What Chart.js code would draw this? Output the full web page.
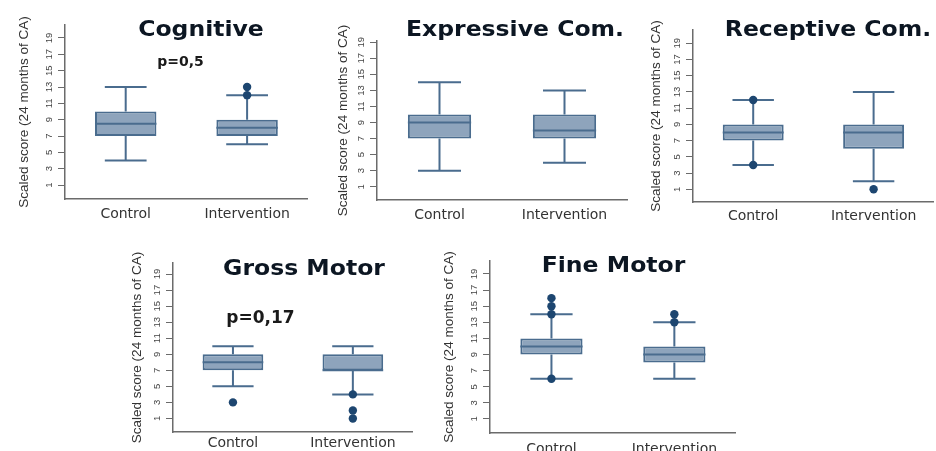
<!DOCTYPE html>
<html>
<head>
<meta charset="utf-8">
<script src="https://cdn.jsdelivr.net/npm/chart.js@4.4.1/dist/chart.umd.min.js"></script>
<style>
  html, body { margin: 0; padding: 0; background: #ffffff; overflow: hidden; width: 936px; height: 451px; }
  canvas { position: absolute; }
</style>
</head>
<body>
<script>
// ---- data ----
const groups = ['Control', 'Intervention'];
const yTickValues = [1, 3, 5, 7, 9, 11, 13, 15, 17, 19];
const yAxisTitle = 'Scaled score (24 months of CA)';

const domainTitles = ['Cognitive', 'Expressive Com.', 'Receptive Com.', 'Gross Motor', 'Fine Motor'];
const pValueLabels = ['p=0,5', '', '', 'p=0,17', ''];

// per group: [lower whisker, Q1, median, Q3, upper whisker]
const cognitiveSummary  = [[4, 7, 8.5, 10, 13], [6, 7, 8, 9, 12]];
const expressiveSummary = [[3, 7, 9, 10, 14],   [4, 7, 8, 10, 13]];
const receptiveSummary  = [[4, 7, 8, 9, 12],    [2, 6, 8, 9, 13]];
const grossMotorSummary = [[5, 7, 8, 9, 10],    [4, 7, 7, 9, 10]];
const fineMotorSummary  = [[6, 9, 10, 11, 14],  [6, 8, 9, 10, 13]];

// individual outlying scores per group
const cognitiveOutliers  = [[], [12, 13]];
const expressiveOutliers = [[], []];
const receptiveOutliers  = [[12, 4], [1]];
const grossMotorOutliers = [[3], [4, 2, 1]];
const fineMotorOutliers  = [[14, 15, 16, 6], [13, 14]];

const summaries = [cognitiveSummary, expressiveSummary, receptiveSummary, grossMotorSummary, fineMotorSummary];
const outliers  = [cognitiveOutliers, expressiveOutliers, receptiveOutliers, grossMotorOutliers, fineMotorOutliers];

// ---- layout (page pixels) ----
const Y_AXIS_W = 62;
const X_AXIS_H = 30;
const panels = [
  { area: { l: 65,  r: 310, t: 25,  b: 199 }, yMin: -0.71, yMax: 20.59, rowTop: 0,   titleGap: 13, labelPad: 7,
    title: { x: 201, y: 36 },   pval: { x: 180.5, y: 62, size: 14 } },
  { area: { l: 377, r: 627, t: 41,  b: 200 }, yMin: -0.65, yMax: 19.15, rowTop: 0,   titleGap: 20, labelPad: 7,
    title: { x: 515, y: 36 },   pval: null },
  { area: { l: 693, r: 936, t: 30,  b: 202 }, yMin: -0.57, yMax: 20.64, rowTop: 0,   titleGap: 17, labelPad: 6,
    title: { x: 828, y: 36 },   pval: null },
  { area: { l: 173, r: 415, t: 263, b: 432 }, yMin: -0.69, yMax: 20.38, rowTop: 236, titleGap: 18, labelPad: 3,
    title: { x: 304, y: 275 },  pval: { x: 260.5, y: 319, size: 17 } },
  { area: { l: 490, r: 738, t: 261, b: 433 }, yMin: -0.74, yMax: 20.61, rowTop: 236, titleGap: 13, labelPad: 8,
    title: { x: 613.5, y: 272 }, pval: null }
];

const BOX_FILL = '#8ea4bc';
const BOX_LINE = '#4a6c8e';
const DOT_FILL = '#1d4670';
const AXIS_COLOR = '#6b6b6b';

function boxPlotPlugin(summary, panel, canvasLeft, canvasTop, titleText, pText) {
  return {
    id: 'boxPlotParts',
    beforeDatasetsDraw(chart) {
      // whiskers and caps sit under the boxes and the outlier dots
      const ctx = chart.ctx;
      const y = chart.scales.y;
      const bars = chart.getDatasetMeta(1).data;
      ctx.save();
      ctx.strokeStyle = BOX_LINE;
      ctx.lineWidth = 2;
      bars.forEach((bar, i) => {
        const [lo, q1, , q3, hi] = summary[i];
        const capHalf = bar.width * 0.34;
        const yLo = y.getPixelForValue(lo), yQ1 = y.getPixelForValue(q1);
        const yQ3 = y.getPixelForValue(q3), yHi = y.getPixelForValue(hi);
        ctx.beginPath();
        ctx.moveTo(bar.x, yQ3); ctx.lineTo(bar.x, yHi);
        ctx.moveTo(bar.x - capHalf, yHi); ctx.lineTo(bar.x + capHalf, yHi);
        ctx.moveTo(bar.x, yQ1); ctx.lineTo(bar.x, yLo);
        ctx.moveTo(bar.x - capHalf, yLo); ctx.lineTo(bar.x + capHalf, yLo);
        ctx.stroke();
      });
      ctx.restore();
    },
    afterDatasetsDraw(chart) {
      // median lines across each box
      const ctx = chart.ctx;
      const y = chart.scales.y;
      const bars = chart.getDatasetMeta(1).data;
      ctx.save();
      ctx.strokeStyle = BOX_LINE;
      ctx.lineWidth = 2;
      bars.forEach((bar, i) => {
        const yMed = y.getPixelForValue(summary[i][2]);
        ctx.beginPath();
        ctx.moveTo(bar.x - bar.width / 2, yMed);
        ctx.lineTo(bar.x + bar.width / 2, yMed);
        ctx.stroke();
      });
      ctx.restore();
    },
    afterDraw(chart) {
      const ctx = chart.ctx;
      const y = chart.scales.y;
      const area = chart.chartArea;
      ctx.save();
      // rotated tick labels on the score axis
      ctx.fillStyle = '#444';
      ctx.font = '9.5px "Liberation Sans", Arial, sans-serif';
      ctx.textAlign = 'center';
      ctx.textBaseline = 'middle';
      yTickValues.forEach(v => {
        ctx.save();
        ctx.translate(area.left - 16, y.getPixelForValue(v));
        ctx.rotate(-Math.PI / 2);
        ctx.fillText(String(v), 0, 0);
        ctx.restore();
      });
      // panel heading
      ctx.save();
      ctx.translate(panel.title.x - canvasLeft, panel.title.y - canvasTop);
      ctx.scale(1.12, 1);
      ctx.fillStyle = '#0c1622';
      ctx.font = 'bold 21px "DejaVu Sans", sans-serif';
      ctx.textAlign = 'center';
      ctx.textBaseline = 'alphabetic';
      ctx.fillText(titleText, 0, 0);
      ctx.restore();
      // p-value note
      if (pText && panel.pval) {
        ctx.fillStyle = '#1a1a1a';
        ctx.font = 'bold ' + panel.pval.size + 'px "DejaVu Sans", sans-serif';
        ctx.textAlign = 'center';
        ctx.textBaseline = 'middle';
        ctx.fillText(pText, panel.pval.x - canvasLeft, panel.pval.y - canvasTop);
      }
      ctx.restore();
    }
  };
}

panels.forEach((panel, idx) => {
  const a = panel.area;
  const canvasLeft = a.l - Y_AXIS_W;
  const canvasTop = panel.rowTop;
  const width = a.r - canvasLeft + 2;
  const height = a.b - canvasTop + X_AXIS_H;

  const canvas = document.createElement('canvas');
  canvas.width = width;
  canvas.height = height;
  canvas.style.left = canvasLeft + 'px';
  canvas.style.top = canvasTop + 'px';
  canvas.style.width = width + 'px';
  canvas.style.height = height + 'px';
  document.body.appendChild(canvas);

  const summary = summaries[idx];
  const dots = [];
  outliers[idx].forEach((vals, gi) => vals.forEach(v => dots.push({ x: groups[gi], y: v })));

  new Chart(canvas.getContext('2d'), {
    type: 'bar',
    data: {
      labels: groups,
      datasets: [
        {
          type: 'scatter',
          data: dots,
          showLine: false,
          pointRadius: 4.2,
          pointBackgroundColor: DOT_FILL,
          pointBorderWidth: 0,
          order: 0
        },
        {
          type: 'bar',
          data: summary.map(s => [s[1], s[3]]),
          backgroundColor: BOX_FILL,
          borderColor: BOX_LINE,
          borderWidth: 2,
          borderSkipped: false,
          barPercentage: 0.506,
          categoryPercentage: 1,
          order: 1
        }
      ]
    },
    options: {
      responsive: false,
      animation: false,
      devicePixelRatio: 1,
      events: [],
      layout: { padding: { left: 0, right: 2, top: a.t - canvasTop, bottom: 0 } },
      plugins: { legend: { display: false }, tooltip: { enabled: false }, title: { display: false } },
      scales: {
        x: {
          type: 'category',
          labels: groups,
          offset: true,
          grid: { display: false, drawTicks: false },
          border: { display: true, color: AXIS_COLOR, width: 1.5 },
          ticks: { color: '#333', font: { family: '"DejaVu Sans", sans-serif', size: 14 }, padding: panel.labelPad, maxRotation: 0, minRotation: 0 },
          afterFit: s => { s.height = X_AXIS_H; }
        },
        y: {
          type: 'linear',
          min: panel.yMin,
          max: panel.yMax,
          afterBuildTicks: s => { s.ticks = yTickValues.map(v => ({ value: v })); },
          grid: { drawOnChartArea: false, drawTicks: true, tickLength: 7, color: AXIS_COLOR, lineWidth: 1 },
          border: { display: true, color: AXIS_COLOR, width: 1.5 },
          ticks: { display: false },
          title: {
            display: true,
            text: yAxisTitle,
            color: '#333',
            font: { family: '"Liberation Sans", Arial, sans-serif', size: 13.5 },
            padding: { top: panel.titleGap, bottom: 0 }
          },
          afterFit: s => { s.width = Y_AXIS_W; }
        }
      }
    },
    plugins: [boxPlotPlugin(summary, panel, canvasLeft, canvasTop, domainTitles[idx], pValueLabels[idx])]
  });
});
</script>
</body>
</html>
